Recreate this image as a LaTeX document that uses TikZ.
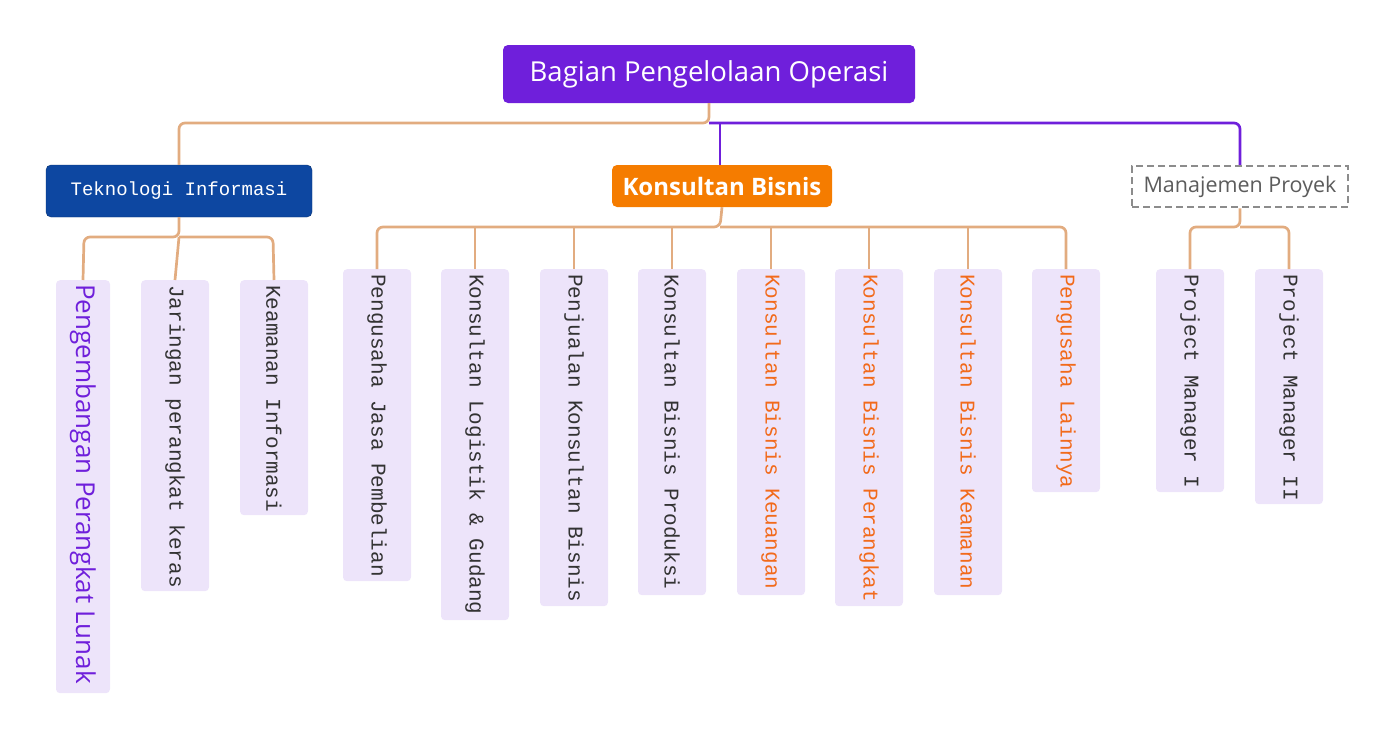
\documentclass[tikz,border=0pt]{standalone}
\usepackage{fontspec}
\setmainfont{Carlito}
\newfontfamily\monof{Liberation Mono}
\newfontfamily\sansf{Open Sans}
\definecolor{rootc}{HTML}{6F1FDB}
\definecolor{tan}{HTML}{E2AC80}
\definecolor{tiblue}{HTML}{0D47A1}
\definecolor{kbor}{HTML}{F57C00}
\definecolor{leafbg}{HTML}{EDE4FA}
\definecolor{orangetxt}{HTML}{F26A1B}
\definecolor{graytxt}{HTML}{333333}
\tikzset{
  x=1pt,y=-1pt,
  leaf/.style={fill=leafbg,rounded corners=4pt,rotate=-90,anchor=west,inner sep=0pt,
    minimum height=68pt,font=\monof\fontsize{21}{24}\selectfont,text=graytxt},
  tanl/.style={draw=tan,line width=2.7pt,rounded corners=6pt},
  purl/.style={draw=rootc,line width=2.7pt,rounded corners=6pt},
}
\newcommand{\leafnode}[5]{% name, x, top, length, text
  \node[leaf,minimum width=#4pt] (#1) at (#2,#3) {\makebox[\dimexpr#4pt-4pt\relax][l]{\hspace*{3pt}#5}};}
\begin{document}
\begin{tikzpicture}
\useasboundingbox (0,0) rectangle (1395,755);
% root and level 1
\node[fill=rootc,rounded corners=5pt,minimum width=412pt,minimum height=58pt,text=white,
  font=\sansf\fontsize{27.5}{32}\selectfont] (root) at (709,74) {Bagian Pengelolaan Operasi};
\node[fill=tiblue,draw=tiblue!70!black,rounded corners=5pt,minimum width=266pt,minimum height=52pt,text=white,
  font=\monof\fontsize{19}{22}\selectfont] (ti) at (179,191) {Teknologi Informasi};
\node[fill=kbor,rounded corners=5pt,minimum width=220pt,minimum height=42pt,text=white,
  font=\sansf\bfseries\fontsize{24}{28}\selectfont] (kb) at (722,186) {Konsultan Bisnis};
\node[draw=gray!90,dash pattern=on 7pt off 4pt,line width=2.5pt,minimum width=216pt,minimum height=41pt,text=graytxt!80,
  font=\sansf\fontsize{21.5}{25}\selectfont] (mp) at (1240,186.5) {Manajemen Proyek};
\draw[tanl] (root.south) -- (709,123) -- (179,123) -- (ti.north);
\draw[purl] (709,123) -- (1240,123) -- (mp.north);
\draw[purl] (720,123) -- (720,165);
% TI leaves
\node[leaf,minimum width=413pt,minimum height=54pt,text=rootc,
  font=\sansf\fontsize{26}{30}\selectfont] (t1) at (83,280) {\makebox[409pt][l]{\hspace*{2pt}Pengembangan Perangkat Lunak}};
\leafnode{t2}{175}{280}{311}{Jaringan perangkat keras}
\leafnode{t3}{274}{280}{235}{Keamanan Informasi}
\draw[tanl] (ti.south) -- (179,237) -- (84,237) -- (t1.west);
\draw[tanl] (179,237) -- (273,237) -- (t3.west);
\draw[tanl] (179,237) -- (t2.west);
% KB leaves
\leafnode{k1}{377}{269}{312}{Pengusaha Jasa Pembelian}
\leafnode{k2}{475}{269}{351}{Konsultan Logistik \& Gudang}
\leafnode{k3}{574}{269}{337}{Penjualan Konsultan Bisnis}
\leafnode{k4}{672}{269}{326}{Konsultan Bisnis Produksi}
\leafnode{k5}{771}{269}{326}{\textcolor{orangetxt}{Konsultan Bisnis Keuangan}}
\leafnode{k6}{869}{269}{337}{\textcolor{orangetxt}{Konsultan Bisnis Perangkat}}
\leafnode{k7}{968}{269}{326}{\textcolor{orangetxt}{Konsultan Bisnis Keamanan}}
\leafnode{k8}{1066}{269}{223}{\textcolor{orangetxt}{Pengusaha Lainnya}}
\draw[tanl] (kb.south) -- (720,227) -- (377,227) -- (k1.west);
\draw[tanl] (720,227) -- (1066,227) -- (k8.west);
\foreach \n/\x in {k2/475,k3/574,k4/672,k5/771,k6/869,k7/968}
  \draw[tanl] (\x,227) -- (\n.west);
% MP leaves
\leafnode{m1}{1190}{269}{223}{Project Manager I}
\leafnode{m2}{1289}{269}{235}{Project Manager II}
\draw[tanl] (mp.south) -- (1240,227) -- (1190,227) -- (m1.west);
\draw[tanl] (1240,227) -- (1289,227) -- (m2.west);
\end{tikzpicture}
\end{document}
